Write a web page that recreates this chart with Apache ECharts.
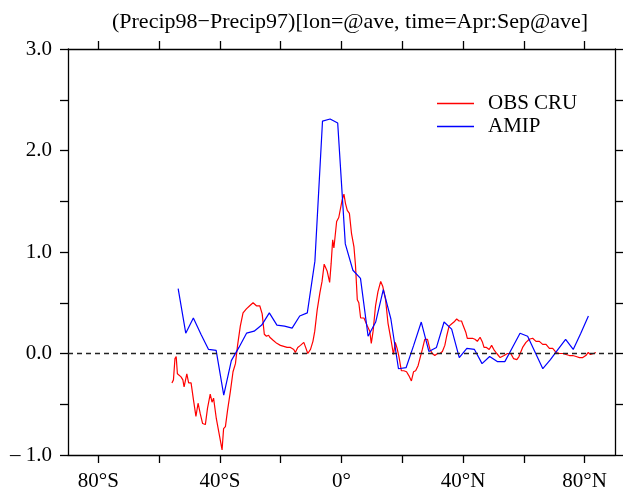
<!DOCTYPE html>
<html>
<head>
<meta charset="utf-8">
<script src="https://cdn.jsdelivr.net/npm/echarts@6/dist/echarts.min.js"></script>
<style>
  html, body { margin: 0; padding: 0; background: #fff; }
  #chart { width: 624px; height: 492px; }
</style>
</head>
<body>
<div id="chart"></div>
<script>
// Zonal-mean precipitation difference, 1998 minus 1997, Apr–Sep average
const obsLat = [
  -55.8, -55.3, -54.8, -54.4, -54.0, -52.8, -52.2, -51.8, -51.4, -50.9,
  -50.3, -49.5, -48.7, -47.9, -47.2, -46.5, -45.7, -44.8, -44.1, -43.2,
  -42.6, -42.1, -41.2, -40.4, -39.9, -39.3, -38.8, -38.2, -37.5, -36.6,
  -35.7, -34.9, -34.2, -33.3, -32.4, -31.3, -30.2, -29.1, -28.0, -26.9,
  -26.1, -25.4, -24.7, -24.0, -23.6, -22.5, -21.3, -20.1, -19.0, -17.9,
  -16.8, -15.7, -15.2, -14.4, -13.5, -12.4, -11.8, -11.1, -10.2, -9.4,
  -8.8, -8.0, -7.1, -6.4, -5.7, -4.7, -3.9, -3.4, -2.9, -2.5,
  -1.6, -0.9, -0.3, 0.2, 0.8, 1.3, 1.9, 2.6, 3.3, 4.1,
  4.6, 5.2, 5.7, 6.3, 6.8, 7.4, 7.9, 8.5, 9.3, 9.8,
  10.4, 11.2, 12.0, 12.9, 13.6, 14.5, 15.3, 16.2, 17.1, 17.7,
  18.3, 18.9, 19.7, 20.5, 21.4, 22.2, 23.0, 23.7, 24.4, 25.2,
  25.8, 26.6, 27.4, 28.3, 29.1, 29.9, 30.7, 31.6, 32.4, 33.2,
  34.0, 34.6, 35.4, 36.2, 37.0, 37.9, 38.7, 39.5, 40.1, 40.9,
  41.4, 42.3, 43.1, 43.9, 44.7, 45.6, 46.4, 46.9, 47.7, 48.6,
  49.4, 50.3, 51.1, 52.2, 53.5, 54.6, 55.7, 56.6, 57.7, 58.4,
  59.6, 60.7, 61.8, 62.9, 64.0, 65.1, 66.2, 67.3, 68.4, 69.5,
  70.6, 71.7, 72.8, 73.9, 75.0, 76.1, 77.2, 78.3, 79.4, 80.4,
  81.2, 81.9, 83.0, 83.7
];
const obsCru = [
  -0.29, -0.26, -0.05, -0.03, -0.20, -0.23, -0.26, -0.33, -0.33, -0.20,
  -0.29, -0.29, -0.46, -0.62, -0.49, -0.59, -0.69, -0.70, -0.54, -0.40,
  -0.48, -0.44, -0.64, -0.77, -0.85, -0.95, -0.74, -0.72, -0.56, -0.38,
  -0.18, -0.10, 0.08, 0.27, 0.40, 0.44, 0.47, 0.50, 0.47, 0.47,
  0.39, 0.19, 0.17, 0.18, 0.16, 0.13, 0.10, 0.08, 0.07, 0.06,
  0.06, 0.04, 0.01, 0.06, 0.08, 0.11, 0.06, 0.00, 0.04, 0.12,
  0.22, 0.43, 0.60, 0.71, 0.88, 0.81, 0.70, 0.89, 1.12, 1.04,
  1.30, 1.34, 1.34, 1.51, 1.57, 1.48, 1.41, 1.38, 1.18, 1.05,
  0.87, 0.53, 0.50, 0.35, 0.36, 0.35, 0.34, 0.27, 0.22, 0.10,
  0.22, 0.47, 0.61, 0.71, 0.66, 0.53, 0.30, 0.15, -0.01, 0.11,
  0.05, -0.03, -0.17, -0.17, -0.18, -0.22, -0.27, -0.18, -0.17, -0.12,
  -0.13, 0.04, 0.14, 0.14, 0.04, 0.00, -0.02, 0.00, 0.00, 0.02,
  0.08, 0.17, 0.27, 0.29, 0.31, 0.34, 0.32, 0.32, 0.27, 0.21,
  0.15, 0.15, 0.15, 0.14, 0.12, 0.16, 0.11, 0.06, 0.06, 0.04,
  0.08, 0.03, 0.00, -0.04, -0.02, 0.00, 0.00, -0.05, -0.06, -0.03,
  0.06, 0.11, 0.14, 0.15, 0.12, 0.12, 0.09, 0.09, 0.05, 0.05,
  0.01, 0.00, 0.00, -0.01, -0.02, -0.02, -0.03, -0.04, -0.04, -0.02,
  0.01, -0.01, 0.00, 0.01
];
const amipLat = [
  -53.75, -51.25, -48.75, -46.25, -43.75, -41.25, -38.75, -36.25, -33.75, -31.25,
  -28.75, -26.25, -23.75, -21.25, -18.75, -16.25, -13.75, -11.25, -8.75, -6.25,
  -3.75, -1.25, 1.25, 3.75, 6.25, 8.75, 11.25, 13.75, 16.25, 18.75,
  21.25, 23.75, 26.25, 28.75, 31.25, 33.75, 36.25, 38.75, 41.25, 43.75,
  46.25, 48.75, 51.25, 53.75, 56.25, 58.75, 61.25, 63.75, 66.25, 68.75,
  71.25, 73.75, 76.25, 78.75, 81.25
];
const amipVal = [
  0.64, 0.20, 0.35, 0.19, 0.04, 0.03, -0.41, -0.07, 0.06, 0.20,
  0.22, 0.28, 0.40, 0.28, 0.27, 0.25, 0.37, 0.40, 0.91, 2.29,
  2.31, 2.27, 1.08, 0.82, 0.74, 0.17, 0.31, 0.63, 0.34, -0.15,
  -0.14, 0.08, 0.31, 0.02, 0.06, 0.31, 0.24, -0.04, 0.05, 0.04,
  -0.10, -0.03, -0.08, -0.08, 0.06, 0.20, 0.17, 0.01, -0.15, -0.06,
  0.04, 0.14, 0.04, 0.20, 0.37
];
const latTicks = [-80, -60, -40, -20, 0, 20, 40, 60, 80];
const latLabels = [-80, -40, 0, 40, 80];
const valTicks = [-1, -0.5, 0, 0.5, 1, 1.5, 2, 2.5, 3];
const valLabels = [-1, 0, 1, 2, 3];
const titleText = '(Precip98\u2212Precip97)[lon=@ave, time=Apr:Sep@ave]';

const FONT = '"Liberation Serif", "DejaVu Serif", serif';

function latName(v) {
  if (v === 0) return '0\u00b0';
  return Math.abs(v) + '\u00b0' + (v < 0 ? 'S' : 'N');
}
function valName(v) {
  const s = Math.abs(v).toFixed(1);
  return v < 0 ? '\u2013 ' + s : s;
}
function pairs(xs, ys) { return xs.map((x, i) => [x, ys[i]]); }

const axisLine = { show: true, onZero: false, lineStyle: { color: '#000', width: 1.3 } };
const axisTick = (vals) => ({ show: true, inside: false, length: 8, customValues: vals,
                              lineStyle: { color: '#000', width: 1.3 } });

const chart = echarts.init(document.getElementById('chart'), null, { renderer: 'canvas' });
chart.setOption({
  animation: false,
  backgroundColor: '#fff',
  title: {
    text: titleText, left: 345, top: 6, textAlign: 'center',
    textStyle: { fontFamily: FONT, fontSize: 22, fontWeight: 'normal', color: '#000' }
  },
  legend: {
    orient: 'vertical', left: 437, top: 93, padding: 0,
    itemWidth: 37, itemHeight: 1.4, itemGap: 2, icon: 'rect',
    textStyle: { fontFamily: FONT, fontSize: 21, lineHeight: 17, color: '#000', padding: [0, 0, 0, 9] },
    data: ['OBS CRU', 'AMIP']
  },
  grid: { left: 68, right: 9, top: 49, bottom: 36, containLabel: false },
  xAxis: [
    { type: 'value', position: 'bottom', min: -90, max: 90,
      axisLine: axisLine, axisTick: axisTick(latTicks), splitLine: { show: false },
      axisLabel: { customValues: latLabels, formatter: latName, margin: 16,
                   fontFamily: FONT, fontSize: 21, color: '#000' } },
    { type: 'value', position: 'top', min: -90, max: 90,
      axisLine: axisLine, axisTick: axisTick(latTicks), splitLine: { show: false },
      axisLabel: { show: false } }
  ],
  yAxis: [
    { type: 'value', position: 'left', min: -1, max: 3, interval: 0.5,
      axisLine: axisLine, axisTick: axisTick(valTicks), splitLine: { show: false },
      axisLabel: { customValues: valLabels, formatter: valName, margin: 16,
                   fontFamily: FONT, fontSize: 21, color: '#000' } },
    { type: 'value', position: 'right', min: -1, max: 3, interval: 0.5,
      axisLine: axisLine, axisTick: axisTick(valTicks), splitLine: { show: false },
      axisLabel: { show: false } }
  ],
  series: [
    { name: 'OBS CRU', type: 'line', data: pairs(obsLat, obsCru), showSymbol: false, symbol: 'none',
      color: '#ff0000', lineStyle: { color: '#ff0000', width: 1.2 },
      markLine: { silent: true, symbol: 'none', label: { show: false },
                  lineStyle: { color: '#222', type: [5, 4], width: 1.3 },
                  data: [{ yAxis: 0 }] } },
    { name: 'AMIP', type: 'line', data: pairs(amipLat, amipVal), showSymbol: false, symbol: 'none',
      color: '#0000ff', lineStyle: { color: '#0000ff', width: 1.2 } }
  ]
});
</script>
</body>
</html>
